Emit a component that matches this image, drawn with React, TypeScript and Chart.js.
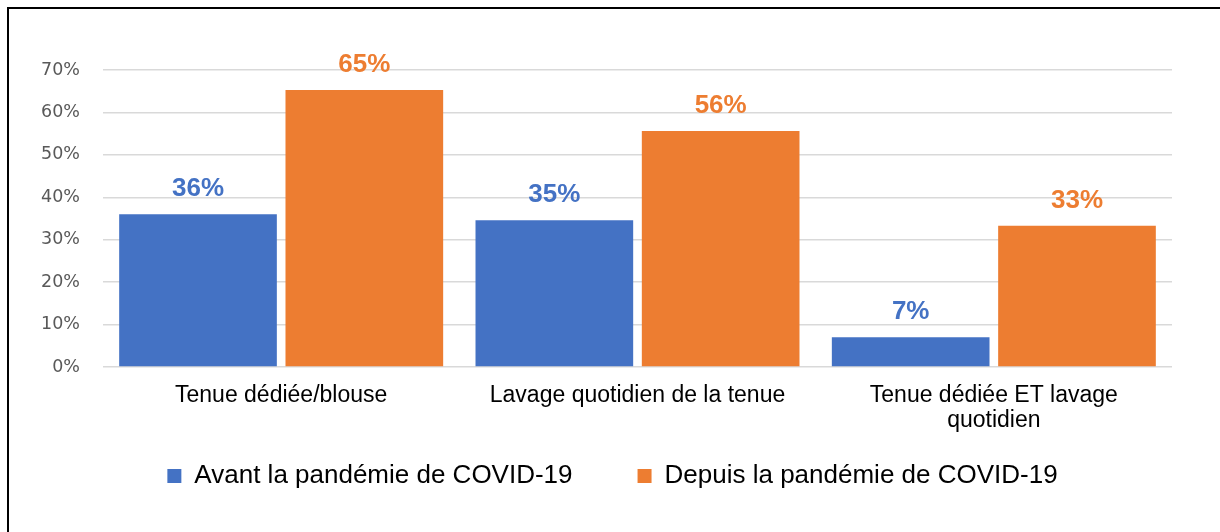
import React, { useEffect, useRef } from "react";
import { Chart, registerables } from "chart.js";

Chart.register(...registerables);

const categories: string[][] = [
  ["Tenue dédiée/blouse"],
  ["Lavage quotidien de la tenue"],
  ["Tenue dédiée ET lavage", "quotidien"],
];
const seriesNames = ["Avant la pandémie de COVID-19", "Depuis la pandémie de COVID-19"];
const avantValues = [36, 34.6, 7];
const depuisValues = [65.3, 55.6, 33.3];
const seriesColors = ["#4472C4", "#ED7D31"];
const yTicks = [0, 10, 20, 30, 40, 50, 60, 70];

const valueLabels = {
  id: "valueLabels",
  afterDatasetsDraw(chart: any) {
    const ctx = chart.ctx;
    chart.data.datasets.forEach((ds: any, i: number) => {
      const meta = chart.getDatasetMeta(i);
      meta.data.forEach((bar: any, j: number) => {
        const v = ds.data[j];
        ctx.save();
        ctx.font = "bold 26px 'Liberation Sans', Arial, sans-serif";
        ctx.fillStyle = ds.backgroundColor;
        ctx.textAlign = "center";
        ctx.textBaseline = "alphabetic";
        ctx.fillText(Math.round(v) + "%", bar.x, bar.y - 18);
        ctx.restore();
      });
    });
  },
};

export default function App() {
  const ref = useRef<HTMLCanvasElement>(null);
  useEffect(() => {
    if (!ref.current) return;
    const chart = new Chart(ref.current, {
      type: "bar",
      data: {
        labels: categories as any,
        datasets: [
          {
            label: seriesNames[0],
            data: avantValues,
            backgroundColor: seriesColors[0],
            borderWidth: 0,
            categoryPercentage: 0.9335,
            barPercentage: 0.948,
          },
          {
            label: seriesNames[1],
            data: depuisValues,
            backgroundColor: seriesColors[1],
            borderWidth: 0,
            categoryPercentage: 0.9335,
            barPercentage: 0.948,
          },
        ],
      },
      options: {
        responsive: false,
        animation: false,
        devicePixelRatio: 1,
        layout: { padding: { left: 53, right: 48, top: 70, bottom: 33 } },
        plugins: {
          tooltip: { enabled: false },
          legend: {
            position: "bottom",
            labels: {
              boxWidth: 14,
              boxHeight: 14,
              padding: 65,
              color: "#000000",
              font: { family: "'Liberation Sans', Arial, sans-serif", size: 26 },
            },
          },
        },
        scales: {
          x: {
            grid: { display: false, drawTicks: false },
            border: { display: false },
            ticks: {
              color: "#000000",
              mirror: true,
              padding: -41,
              maxRotation: 0,
              autoSkip: false,
              font: { family: "'Liberation Sans', Arial, sans-serif", size: 23, lineHeight: 1.1 },
            },
            afterFit: (s: any) => {
              s.height = 31;
            },
          },
          y: {
            min: yTicks[0],
            max: yTicks[yTicks.length - 1],
            grid: { color: "#d9d9d9", lineWidth: 1.5, drawTicks: false },
            border: { display: false },
            ticks: {
              stepSize: 10,
              color: "#595959",
              mirror: true,
              crossAlign: "far",
              padding: -62,
              font: { family: "'DejaVu Sans', sans-serif", size: 17.5 },
              callback: (v: any) => v + "%",
            },
            afterFit: (s: any) => {
              s.width = 50;
            },
          },
        },
      },
      plugins: [valueLabels],
    });
    return () => chart.destroy();
  }, []);

  return (
    <>
      <div
        style={{
          position: "fixed",
          left: 7,
          top: 7,
          width: 1240,
          height: 560,
          border: "2px solid #000",
          boxSizing: "border-box",
        }}
      />
      <canvas
        ref={ref}
        width={1220}
        height={532}
        style={{ position: "fixed", left: 0, top: 0, width: 1220, height: 532 }}
      />
    </>
  );
}
